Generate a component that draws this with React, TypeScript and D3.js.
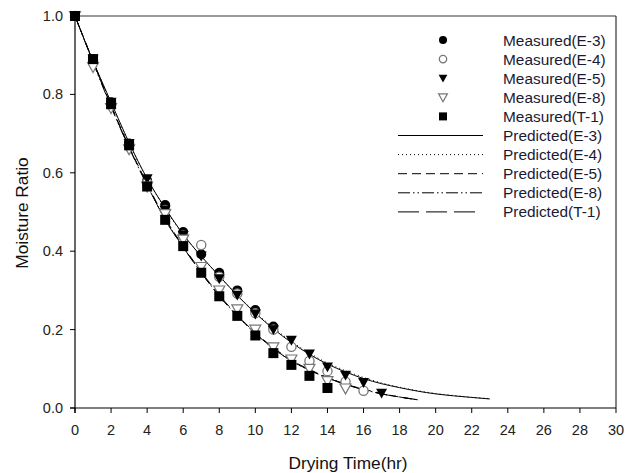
import React from "react";
import * as d3 from "d3";

const W = 642, H = 473;
const xTicks = [0, 2, 4, 6, 8, 10, 12, 14, 16, 18, 20, 22, 24, 26, 28, 30];
const yTicks = [0, 0.2, 0.4, 0.6, 0.8, 1.0];

const measE3 = [1.0, 0.89, 0.78, 0.675, 0.58, 0.518, 0.449, 0.392, 0.345, 0.3, 0.25, 0.208];
const measE4 = [1.0, 0.885, 0.775, 0.67, 0.575, 0.505, 0.44, 0.416, 0.335, 0.292, 0.242, 0.2, 0.156, 0.12, 0.094, 0.067, 0.044];
const measE5 = [1.0, 0.89, 0.78, 0.675, 0.585, 0.505, 0.44, 0.388, 0.33, 0.288, 0.24, 0.2, 0.173, 0.138, 0.105, 0.084, 0.065, 0.038];
const measE8 = [1.0, 0.87, 0.765, 0.66, 0.565, 0.495, 0.43, 0.36, 0.3, 0.252, 0.2, 0.155, 0.124, 0.1, 0.069, 0.05];
const measT1 = [1.0, 0.89, 0.775, 0.67, 0.565, 0.48, 0.413, 0.345, 0.285, 0.235, 0.185, 0.14, 0.11, 0.082, 0.051];

const predE3 = [1.0, 0.885, 0.78, 0.677, 0.585, 0.51, 0.443, 0.387, 0.337, 0.287, 0.242, 0.202, 0.167, 0.137, 0.112, 0.092, 0.075, 0.062, 0.052, 0.043, 0.036, 0.031, 0.027, 0.023];
const predE4 = [1.0, 0.885, 0.778, 0.675, 0.585, 0.508, 0.442, 0.387, 0.336, 0.288, 0.244, 0.205, 0.17, 0.14, 0.115, 0.095, 0.078, 0.064, 0.053, 0.044, 0.037, 0.032, 0.027, 0.024];
const predE5 = [1.0, 0.885, 0.772, 0.667, 0.572, 0.484, 0.413, 0.348, 0.288, 0.237, 0.192, 0.154, 0.122, 0.098, 0.078, 0.061, 0.048, 0.037, 0.028, 0.021];
const predE8 = [1.0, 0.882, 0.768, 0.664, 0.568, 0.482, 0.41, 0.345, 0.286, 0.235, 0.19, 0.152, 0.12, 0.096, 0.077, 0.06, 0.047, 0.036, 0.028, 0.021];
const predT1 = [1.0, 0.884, 0.77, 0.665, 0.57, 0.48, 0.41, 0.345, 0.285, 0.235, 0.19, 0.152, 0.12, 0.097, 0.077, 0.06, 0.047, 0.036, 0.028, 0.021];

const measLabels = ["Measured(E-3)", "Measured(E-4)", "Measured(E-5)", "Measured(E-8)", "Measured(T-1)"];
const predLabels = ["Predicted(E-3)", "Predicted(E-4)", "Predicted(E-5)", "Predicted(E-8)", "Predicted(T-1)"];

const x = d3.scaleLinear().domain([0, 30]).range([75, 616]);
const y = d3.scaleLinear().domain([0, 1]).range([408, 16]);

type Kind = "fcircle" | "ocircle" | "ftri" | "otri" | "square";
const kinds: Kind[] = ["fcircle", "ocircle", "ftri", "otri", "square"];
const measured = [measE3, measE4, measE5, measE8, measT1];
const predicted = [predE3, predE4, predE5, predE8, predT1];
const dashes = ["none", "1,3", "9,5", "12,3,1.5,3,1.5,3", "21,7"];

function Marker({ kind, cx, cy, s = 1 }: { kind: Kind; cx: number; cy: number; s?: number }) {
  const gray = "#777";
  if (kind === "fcircle") return <circle cx={cx} cy={cy} r={5 * s} fill="#000" />;
  if (kind === "ocircle") return <circle cx={cx} cy={cy} r={4.6 * s} fill="#fff" stroke={gray} strokeWidth={1.3} />;
  if (kind === "square") return <rect x={cx - 5 * s} y={cy - 5 * s} width={10 * s} height={10 * s} fill="#000" />;
  const r = 5.5 * s;
  const pts = `${cx - r},${cy - r * 0.8} ${cx + r},${cy - r * 0.8} ${cx},${cy + r}`;
  if (kind === "ftri") return <polygon points={pts} fill="#000" />;
  return <polygon points={pts} fill="#fff" stroke={gray} strokeWidth={1.2} />;
}

export default function App() {
  const line = d3
    .line<number>()
    .x((_, i) => x(i))
    .y((d) => y(d))
    .curve(d3.curveMonotoneX);
  const font = "Liberation Sans, Arial, sans-serif";
  const legX = 443, legTextX = 503, legY0 = 40, legDy = 19.1;
  return (
    <svg width={W} height={H} style={{ position: "absolute", left: 0, top: 0, background: "#fff" }} fontFamily={font}>
      <rect x={0} y={0} width={W} height={H} fill="#fff" />
      {/* frame */}
      <line x1={75} x2={616} y1={16} y2={16} stroke="#777" strokeWidth={1.5} />
      <line x1={616} x2={616} y1={16} y2={408} stroke="#333" strokeWidth={1.2} />
      {/* axes */}
      <line x1={75} x2={75} y1={16} y2={413} stroke="#000" strokeWidth={1.2} />
      <line x1={70} x2={616} y1={408} y2={408} stroke="#000" strokeWidth={1.2} />
      {yTicks.map((t) => (
        <g key={"y" + t}>
          <line x1={70} x2={75} y1={y(t)} y2={y(t)} stroke="#000" />
          <text x={63} y={y(t) + 5} textAnchor="end" fontSize={14.5} fill="#222">
            {t.toFixed(1)}
          </text>
        </g>
      ))}
      {xTicks.map((t) => (
        <g key={"x" + t}>
          <line x1={x(t)} x2={x(t)} y1={408} y2={413} stroke="#000" />
          <text x={x(t)} y={435} textAnchor="middle" fontSize={14.5} fill="#222">
            {t}
          </text>
        </g>
      ))}
      <text x={348} y={469} textAnchor="middle" fontSize={17.3} fill="#111">
        Drying Time(hr)
      </text>
      <text transform={`translate(28,213) rotate(-90)`} textAnchor="middle" fontSize={17.3} fill="#111">
        Moisture Ratio
      </text>
      {/* predicted curves */}
      {predicted.map((p, i) => (
        <path key={"p" + i} d={line(p) || ""} fill="none" stroke="#000" strokeWidth={1} strokeDasharray={dashes[i]} />
      ))}
      {/* measured points */}
      {measured.map((m, i) =>
        m.map((v, t) => <Marker key={`m${i}-${t}`} kind={kinds[i]} cx={x(t)} cy={y(v)} />)
      )}
      {/* legend */}
      {measLabels.map((l, i) => (
        <g key={"lm" + i}>
          <Marker kind={kinds[i]} cx={legX} cy={legY0 + i * legDy} s={0.8} />
          <text x={legTextX} y={legY0 + i * legDy + 5.5} fontSize={15.4} fill="#1a1a33">
            {l}
          </text>
        </g>
      ))}
      {predLabels.map((l, i) => {
        const yy = legY0 + (i + 5) * legDy;
        return (
          <g key={"lp" + i}>
            <line x1={398} x2={i === 4 ? 475 : 483} y1={yy} y2={yy} stroke="#000" strokeDasharray={dashes[i]} />
            <text x={legTextX} y={yy + 5.5} fontSize={15.4} fill="#1a1a33">
              {l}
            </text>
          </g>
        );
      })}
    </svg>
  );
}
